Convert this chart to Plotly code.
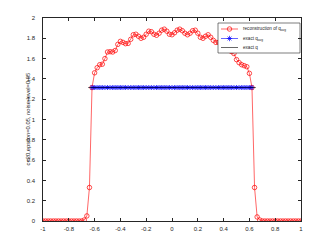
import plotly.graph_objects as go

# reconstruction of q_avg, sampled at x = -1, -0.98, ..., 1
x_rec = [round(-1 + 0.02 * i, 2) for i in range(101)]
left_zero = [0.0] * 16  # -1.00 .. -0.70
y_core = [0.01, 0.05, 0.33, 1.315, 1.46, 1.51, 1.54, 1.545, 1.60, 1.665,
          1.668, 1.665, 1.68, 1.74, 1.77, 1.76, 1.747, 1.75, 1.79, 1.835,
          1.84, 1.82, 1.80, 1.81, 1.84, 1.87, 1.865, 1.84, 1.83, 1.85,
          1.88, 1.89, 1.87, 1.84, 1.835, 1.855, 1.88, 1.89, 1.875, 1.85,
          1.835, 1.85, 1.875, 1.88, 1.85, 1.81, 1.80, 1.82, 1.835, 1.81,
          1.78, 1.76, 1.76, 1.76, 1.75, 1.73, 1.70, 1.67, 1.65, 1.59,
          1.56, 1.54, 1.53, 1.52, 1.455, 1.315, 0.33, 0.04, 0.01]
right_zero = [0.0] * 16  # 0.70 .. 1.00
y_rec = left_zero + y_core + right_zero

# exact q_avg
x_avg = [round(-0.62 + 0.02 * i, 2) for i in range(63)]
y_avg = [1.315] * len(x_avg)

# exact q
x_q = [-0.65, 0.65]
y_q = [1.315, 1.315]

x_ticks = [-1, -0.8, -0.6, -0.4, -0.2, 0, 0.2, 0.4, 0.6, 0.8, 1]
x_ticktext = ["-1", "-0.8", "-0.6", "-0.4", "-0.2", "0", "0.2", "0.4", "0.6", "0.8", "1"]
y_ticks = [0, 0.2, 0.4, 0.6, 0.8, 1, 1.2, 1.4, 1.6, 1.8, 2]
y_ticktext = ["0", "0.2", "0.4", "0.6", "0.8", "1", "1.2", "1.4", "1.6", "1.8", "2"]
y_title = "c=20,epsilon=0.05, noise level=0.05"

legend_names = ["reconstruction of q<sub>avg</sub>", "exact q<sub>avg</sub>", "exact q"]
legend_colors = ["#ff0000", "#0000ff", "#000000"]
legend_symbols = ["circle-open", "asterisk-open", None]

RED, BLUE, BLACK, AX = "#ff0000", "#0000ff", "#000000", "#262626"

fig = go.Figure()
fig.add_trace(go.Scatter(x=x_rec, y=y_rec, mode="lines+markers", name=legend_names[0],
                         line=dict(color=RED, width=0.6),
                         marker=dict(symbol="circle-open", size=4.5, color=RED, line=dict(width=0.7))))
fig.add_trace(go.Scatter(x=x_avg, y=y_avg, mode="lines+markers", name=legend_names[1],
                         line=dict(color=BLUE, width=0.6),
                         marker=dict(symbol="asterisk-open", size=4, color=BLUE,
                                     line=dict(width=0.8, color=BLUE))))
fig.add_trace(go.Scatter(x=x_q, y=y_q, mode="lines", name=legend_names[2],
                         line=dict(color=BLACK, width=0.6)))

# compact MATLAB-style legend drawn on an overlay axis measured in pixels of the plot area
lx0, lx1, ly0, ly1 = 218, 300, 23, 53
fig.add_trace(go.Scatter(x=[lx0, lx1, lx1, lx0, lx0], y=[ly0, ly0, ly1, ly1, ly0],
                         xaxis="x2", yaxis="y2", mode="lines", fill="toself",
                         fillcolor="white", line=dict(color=AX, width=0.6),
                         hoverinfo="skip", showlegend=False))
rows = [29, 38.5, 47.5]
for name, col, sym, ry in zip(legend_names, legend_colors, legend_symbols, rows):
    fig.add_trace(go.Scatter(x=[221, 238], y=[ry, ry], xaxis="x2", yaxis="y2", mode="lines",
                             line=dict(color=col, width=0.6), hoverinfo="skip", showlegend=False))
    if sym:
        fig.add_trace(go.Scatter(x=[229.5], y=[ry], xaxis="x2", yaxis="y2", mode="markers",
                                 marker=dict(symbol=sym, size=4.5, color=col, line=dict(width=0.7, color=col)),
                                 hoverinfo="skip", showlegend=False))
    fig.add_annotation(x=240.5, y=ry, xref="x2", yref="y2", text=name, showarrow=False,
                       xanchor="left", yanchor="middle",
                       font=dict(size=4.6, color=AX, family="Liberation Sans"))

# y-axis label placed like MATLAB's ylabel
fig.add_annotation(x=0, y=0.5, xref="paper", yref="paper", text=y_title, showarrow=False,
                   textangle=-90, xanchor="center", yanchor="middle", xshift=-16,
                   font=dict(size=5.8, color=AX, family="Liberation Sans"))

axis_common = dict(showline=True, linecolor=AX, linewidth=0.6, mirror="ticks",
                   ticks="inside", ticklen=3, tickcolor=AX, tickwidth=0.6,
                   showgrid=False, zeroline=False, automargin=False,
                   tickfont=dict(size=6, color=AX, family="Liberation Sans"))
fig.update_layout(
    xaxis=dict(range=[-1, 1], tickvals=x_ticks, ticktext=x_ticktext, ticklabelstandoff=2, **axis_common),
    yaxis=dict(range=[0, 2], tickvals=y_ticks, ticktext=y_ticktext, ticklabelstandoff=6, **axis_common),
    xaxis2=dict(overlaying="x", range=[43, 301], visible=False, fixedrange=True, anchor="y2"),
    yaxis2=dict(overlaying="y", range=[221, 18], visible=False, fixedrange=True, anchor="x2"),
)

# the page body adds an 8 px margin, so the figure is made 8 px smaller on the left/top
fig.update_layout(width=324, height=241, margin=dict(l=35, r=31, t=10, b=28),
                  paper_bgcolor="white", plot_bgcolor="white", showlegend=False)
fig.write_html("out.html")
